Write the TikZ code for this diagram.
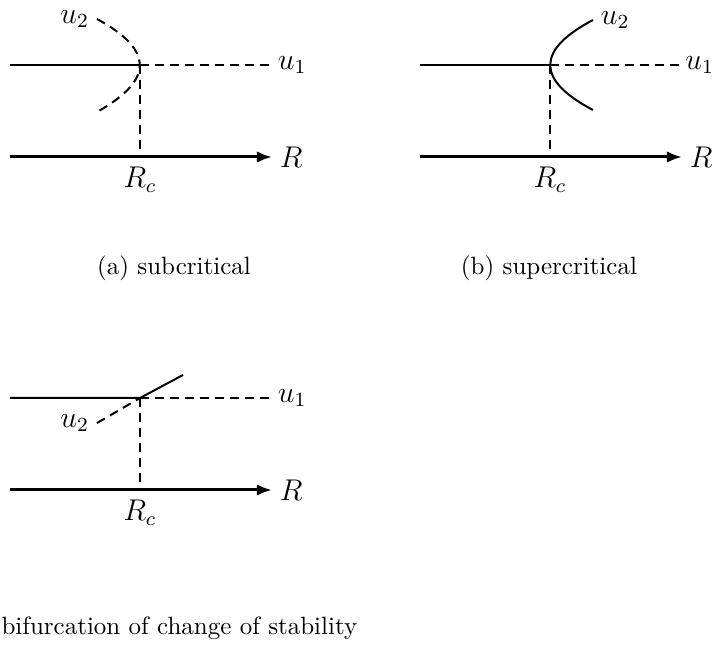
\documentclass[tikz,border=0pt]{standalone}
\usepackage{amsmath}
\usepackage{tikz}
\usetikzlibrary{arrows.meta, positioning, calc}

\begin{document}
\begin{tikzpicture}[x=0.4pt, y=-0.4pt, >={Latex[length=6pt,width=4.6pt]},
    stable/.style={line width=0.8pt},
    unstable/.style={line width=0.8pt, dash pattern=on 3.6pt off 2.4pt},
    axis/.style={line width=1.2pt, ->},
    lbl/.style={inner sep=1pt, font=\large}]
    \useasboundingbox (0,0) rectangle (716,646);
    % (a) subcritical
    \coordinate (a0) at (10,65);
    \coordinate (ac) at (140,65);
    \coordinate (a1) at (270,65);
    \coordinate (atop) at (97,19);
    \coordinate (abot) at (97,112);
    \coordinate (ab) at (140,157);
    \coordinate (ax0) at (10,157);
    \coordinate (ax1) at (272,157);
    \draw[stable] (a0) -- (ac);
    \draw[unstable] (ac) -- (a1);
    \draw[unstable] (atop) .. controls (154,50) and (154,80) .. (abot);
    \draw[unstable] (ac) -- (ab);
    \draw[axis] (ax0) -- (ax1);
    \node[lbl, right=2pt of a1] (u1a) {$u_1$};
    \node[lbl, left=2pt of atop] (u2a) {$u_2$};
    \node[lbl, right=2pt of ax1] (Ra) {$R$};
    \node[lbl, below=3pt of ab] (Rca) {$R_c$};
    \node (capa) at (174,268) {(a) subcritical};
    % (b) supercritical
    \coordinate (b0) at (420,65);
    \coordinate (bc) at (550,65);
    \coordinate (b1) at (680,65);
    \coordinate (btop) at (593,20);
    \coordinate (bbot) at (593,110);
    \coordinate (bb) at (550,157);
    \coordinate (bx0) at (420,157);
    \coordinate (bx1) at (682,157);
    \draw[stable] (b0) -- (bc);
    \draw[unstable] (bc) -- (b1);
    \draw[stable] (btop) .. controls (536,50) and (536,80) .. (bbot);
    \draw[unstable] (bc) -- (bb);
    \draw[axis] (bx0) -- (bx1);
    \node[lbl, right=1pt of b1] (u1b) {$u_1$};
    \node[lbl, right=2pt of btop] (u2b) {$u_2$};
    \node[lbl, right=2pt of bx1] (Rb) {$R$};
    \node[lbl, below=3pt of bb] (Rcb) {$R_c$};
    \node (capb) at (549,268) {(b) supercritical};
    % (c) change of stability
    \coordinate (c0) at (10,398);
    \coordinate (cc) at (140,398);
    \coordinate (c1) at (270,398);
    \coordinate (cup) at (183,375);
    \coordinate (clow) at (97,423);
    \coordinate (cb) at (140,490);
    \coordinate (cx0) at (10,490);
    \coordinate (cx1) at (272,490);
    \draw[stable] (c0) -- (cc) -- (cup);
    \draw[unstable] (cc) -- (c1);
    \draw[unstable] (clow) -- (cc);
    \draw[unstable] (cc) -- (cb);
    \draw[axis] (cx0) -- (cx1);
    \node[lbl, right=2pt of c1] (u1c) {$u_1$};
    \node[lbl, left=2pt of clow] (u2c) {$u_2$};
    \node[lbl, right=2pt of cx1] (Rc) {$R$};
    \node[lbl, below=3pt of cb] (Rcc) {$R_c$};
    \node[anchor=west, inner sep=0pt] (capc) at (1,628) {bifurcation of change of stability};
\end{tikzpicture}
\end{document}
